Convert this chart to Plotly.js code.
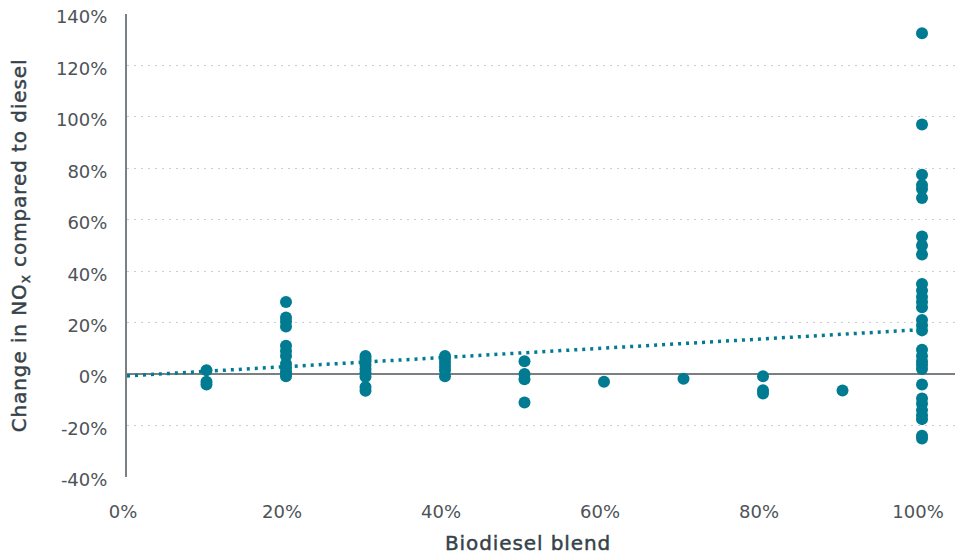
<!DOCTYPE html>
<html>
<head>
<meta charset="utf-8">
<script src="https://cdn.plot.ly/plotly-3.0.1.min.js"></script>
<style>
  html, body { margin: 0; padding: 0; background: #ffffff; }
  #chart { width: 963px; height: 558px; }
  /* slightly heavier, wider axis titles */
  .ytitle, .annotation-text { letter-spacing: 0.9px; stroke: #36424a; stroke-width: 0.45px; }
</style>
</head>
<body>
<div id="chart"></div>
<script>
// Biodiesel blend level of each test (fraction of biodiesel)
const blend = [
  0.1, 0.1, 0.1,
  0.2, 0.2, 0.2, 0.2, 0.2, 0.2, 0.2, 0.2, 0.2, 0.2, 0.2, 0.2,
  0.3, 0.3, 0.3, 0.3, 0.3, 0.3, 0.3, 0.3, 0.3,
  0.4, 0.4, 0.4, 0.4, 0.4, 0.4,
  0.5, 0.5, 0.5, 0.5,
  0.6,
  0.7,
  0.8, 0.8, 0.8,
  0.9,
  1.0, 1.0, 1.0, 1.0, 1.0, 1.0, 1.0, 1.0, 1.0, 1.0,
  1.0, 1.0, 1.0, 1.0, 1.0, 1.0, 1.0, 1.0, 1.0, 1.0,
  1.0, 1.0, 1.0, 1.0, 1.0, 1.0, 1.0, 1.0, 1.0, 1.0
];

// Change in NOx relative to diesel for each test (fraction)
const noxChange = [
  0.015, -0.03, -0.04,
  0.28, 0.22, 0.205, 0.185, 0.11, 0.09, 0.07, 0.04, 0.025, 0.01, 0.0, -0.008,
  0.07, 0.06, 0.05, 0.035, 0.02, 0.005, -0.01, -0.05, -0.065,
  0.07, 0.06, 0.045, 0.03, 0.015, -0.008,
  0.05, 0.0, -0.02, -0.11,
  -0.03,
  -0.018,
  -0.008, -0.063, -0.075,
  -0.064,
  1.325, 0.97, 0.775, 0.735, 0.72, 0.685, 0.535, 0.50, 0.465, 0.35,
  0.325, 0.30, 0.28, 0.26, 0.21, 0.19, 0.17, 0.095, 0.07, 0.05,
  0.035, 0.02, -0.04, -0.095, -0.115, -0.14, -0.16, -0.175, -0.24, -0.25
];

// Linear trend across all tests
const trendX = [0, 1.0];
const trendY = [-0.007, 0.173];

// Axis ticks and their labels
const xTicks = [0, 0.2, 0.4, 0.6, 0.8, 1.0];
const xTickLabels = ['0%', '20%', '40%', '60%', '80%', '100%'];
const yTicks = [-0.4, -0.2, 0, 0.2, 0.4, 0.6, 0.8, 1.0, 1.2, 1.4];
const yTickLabels = ['-40%', '-20%', '0%', '20%', '40%', '60%', '80%', '100%', '120%', '140%'];

const teal = '#007b91';
const fontFamily = '"DejaVu Sans", "Noto Sans", sans-serif';
const tickColor = '#4d5358';
const titleColor = '#36424a';

const traces = [
  {
    x: trendX,
    y: trendY,
    type: 'scatter',
    mode: 'lines',
    line: { color: teal, width: 3.5, dash: '3px,5px' },
    hoverinfo: 'skip',
    showlegend: false
  },
  {
    x: blend,
    y: noxChange,
    type: 'scatter',
    mode: 'markers',
    marker: { color: teal, size: 12, line: { width: 0 } },
    showlegend: false
  }
];

const layout = {
  width: 963,
  height: 558,
  margin: { l: 127, r: 8, t: 14, b: 81 },
  paper_bgcolor: '#ffffff',
  plot_bgcolor: '#ffffff',
  font: { family: fontFamily, color: tickColor, size: 18 },
  showlegend: false,
  xaxis: {
    range: [0, 1.0415],
    tickvals: xTicks,
    ticktext: xTickLabels,
    showgrid: false,
    zeroline: false,
    showline: false,
    ticks: 'outside',
    ticklen: 18,
    tickcolor: 'rgba(0,0,0,0)',
    ticklabelshift: -4,
    tickfont: { family: fontFamily, size: 18, color: tickColor }
  },
  yaxis: {
    range: [-0.4, 1.4],
    tickvals: yTicks,
    ticktext: yTickLabels,
    showgrid: true,
    gridcolor: '#cccccc',
    griddash: '2px,5px',
    gridwidth: 1,
    zeroline: true,
    zerolinecolor: '#7a7f84',
    zerolinewidth: 2,
    showline: true,
    linecolor: '#7a7f84',
    linewidth: 2,
    ticks: 'outside',
    ticklen: 14,
    tickcolor: 'rgba(0,0,0,0)',
    ticklabelshift: 3,
    tickfont: { family: fontFamily, size: 18, color: tickColor },
    title: {
      text: 'Change in NO<sub>x</sub> compared to diesel',
      standoff: 24,
      font: { family: fontFamily, size: 20, color: titleColor }
    }
  },
  annotations: [
    {
      // x-axis title, centred under the figure
      text: 'Biodiesel blend',
      xref: 'paper',
      yref: 'paper',
      x: 0.4845,
      y: -0.1425,
      xanchor: 'center',
      yanchor: 'middle',
      showarrow: false,
      font: { family: fontFamily, size: 20, color: titleColor }
    }
  ]
};

Plotly.newPlot('chart', traces, layout, { displayModeBar: false, staticPlot: true });
</script>
</body>
</html>
